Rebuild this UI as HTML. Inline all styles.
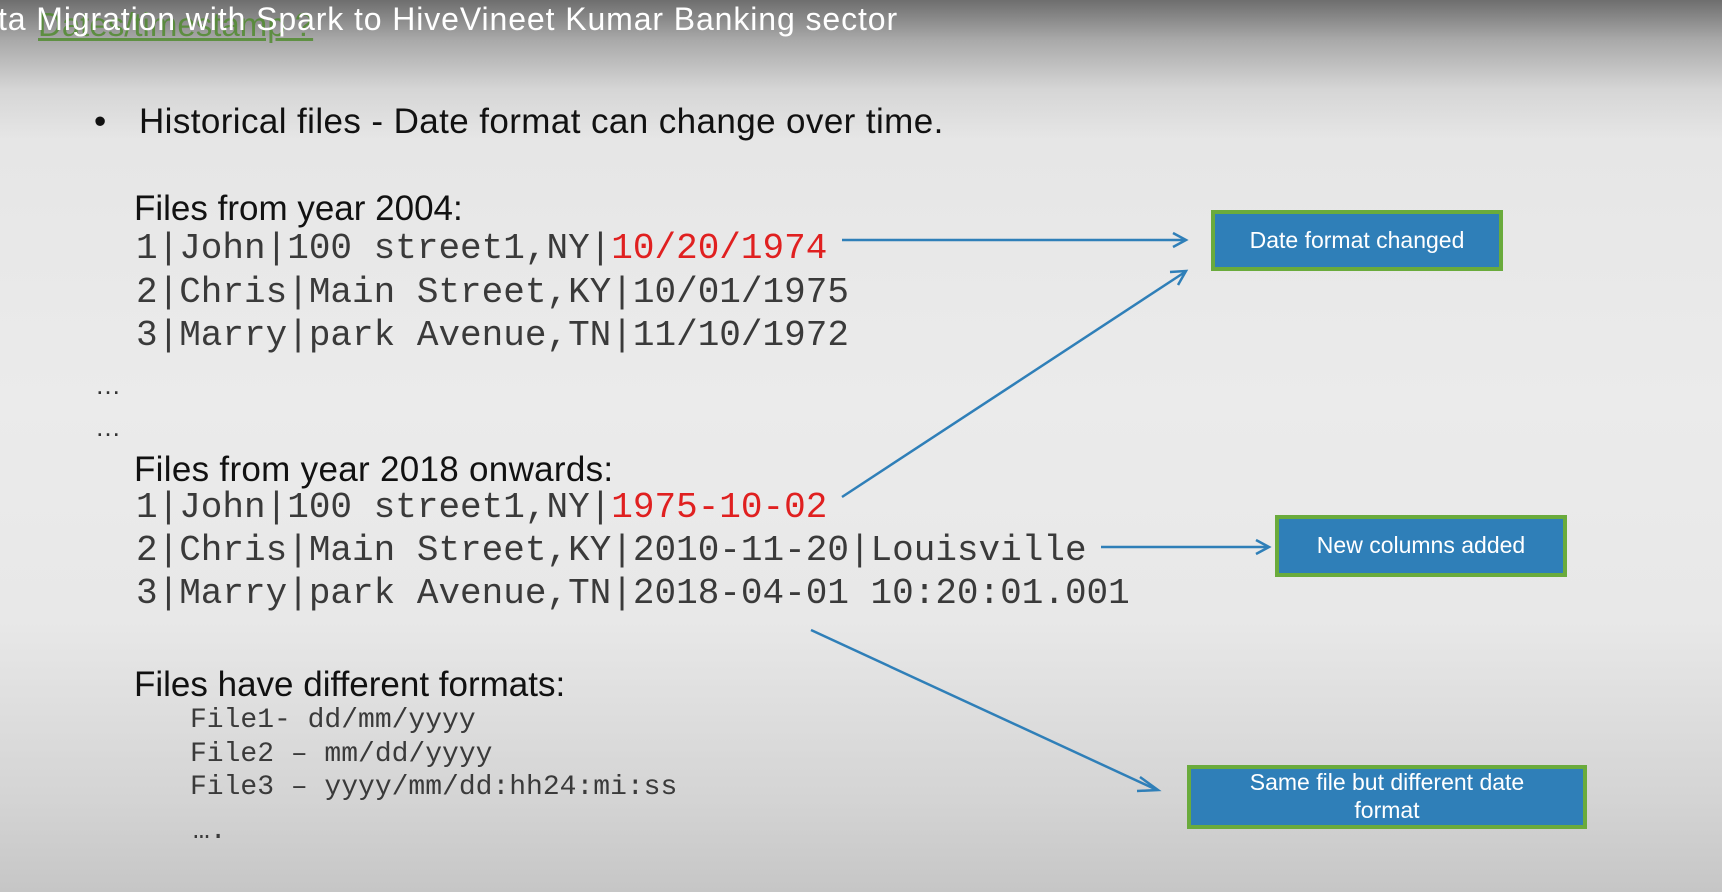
<!DOCTYPE html>
<html><head><meta charset="utf-8"><style>
html,body{margin:0;padding:0;}
body{width:1722px;height:892px;position:relative;overflow:hidden;
background:linear-gradient(to bottom,#6e6e6e 0px,#a9a9a9 40px,#d6d6d6 90px,#e6e6e6 140px,#ebebeb 400px,#e8e8e8 620px,#d4d4d4 800px,#c6c6c6 892px);
font-family:"Liberation Sans",sans-serif;}
.t{position:absolute;white-space:pre;line-height:1;}
.s{font-family:"Liberation Sans",sans-serif;color:#111;}
.m{font-family:"Liberation Mono",monospace;color:#3a3a3a;font-size:36px;}
.sm{font-family:"Liberation Mono",monospace;color:#3a3a3a;font-size:28px;}
.r{color:#e02020;}
.box{position:absolute;background:#2f7fb8;border:4px solid #6aab3c;color:#fff;font-size:23px;text-align:center;display:flex;align-items:center;justify-content:center;box-sizing:border-box;line-height:1.2;}
</style></head><body>
<div class="t" style="left:38px;top:8px;font-size:33px;color:#4d8a2a;text-decoration:underline;opacity:0.8">Dates/timestamp ?</div>
<div class="t" style="left:-2px;top:3px;font-size:32px;color:#fff;letter-spacing:0.9px">ta Migration with Spark to HiveVineet Kumar Banking sector</div>

<div class="t s" style="left:94px;top:104px;font-size:35px">•</div>
<div class="t s" style="left:139px;top:104px;font-size:35px;letter-spacing:0.4px">Historical files - Date format can change over time.</div>

<div class="t s" style="left:134px;top:191px;font-size:35px">Files from year 2004:</div>
<div class="t m" style="left:136px;top:231px">1|John|100 street1,NY|<span class="r">10/20/1974</span></div>
<div class="t m" style="left:136px;top:275px">2|Chris|Main Street,KY|10/01/1975</div>
<div class="t m" style="left:136px;top:318px">3|Marry|park Avenue,TN|11/10/1972</div>
<div class="t s" style="left:95px;top:372px;font-size:26px;color:#333">…</div>
<div class="t s" style="left:95px;top:414px;font-size:26px;color:#333">…</div>

<div class="t s" style="left:134px;top:452px;font-size:35px;letter-spacing:0.3px">Files from year 2018 onwards:</div>
<div class="t m" style="left:136px;top:490px">1|John|100 street1,NY|<span class="r">1975-10-02</span></div>
<div class="t m" style="left:136px;top:533px">2|Chris|Main Street,KY|2010-11-20|Louisville</div>
<div class="t m" style="left:136px;top:576px">3|Marry|park Avenue,TN|2018-04-01 10:20:01.001</div>

<div class="t s" style="left:134px;top:667px;font-size:35px">Files have different formats:</div>
<div class="t sm" style="left:190px;top:707px">File1- dd/mm/yyyy</div>
<div class="t sm" style="left:190px;top:741px">File2 – mm/dd/yyyy</div>
<div class="t sm" style="left:190px;top:774px">File3 – yyyy/mm/dd:hh24:mi:ss</div>
<div class="t sm" style="left:193px;top:818px">….</div>

<svg width="1722" height="892" style="position:absolute;left:0;top:0">
<g stroke="#2f7fb8" stroke-width="2.5" fill="none">
<line x1="842" y1="240" x2="1185" y2="240"/>
<polyline points="1173,233 1186,240 1173,247"/>
<line x1="842" y1="497" x2="1185" y2="272"/>
<polyline points="1170,272 1186,271 1178,285"/>
<line x1="1101" y1="547" x2="1268" y2="547"/>
<polyline points="1256,540 1269,547 1256,554"/>
<line x1="811" y1="630" x2="1157" y2="790"/>
<polyline points="1140,777 1158,790 1137,791"/>
</g>
</svg>

<div class="box" style="left:1211px;top:210px;width:292px;height:61px">Date format changed</div>
<div class="box" style="left:1275px;top:515px;width:292px;height:62px">New columns added</div>
<div class="box" style="left:1187px;top:765px;width:400px;height:64px">Same file but different date<br>format</div>
</body></html>
